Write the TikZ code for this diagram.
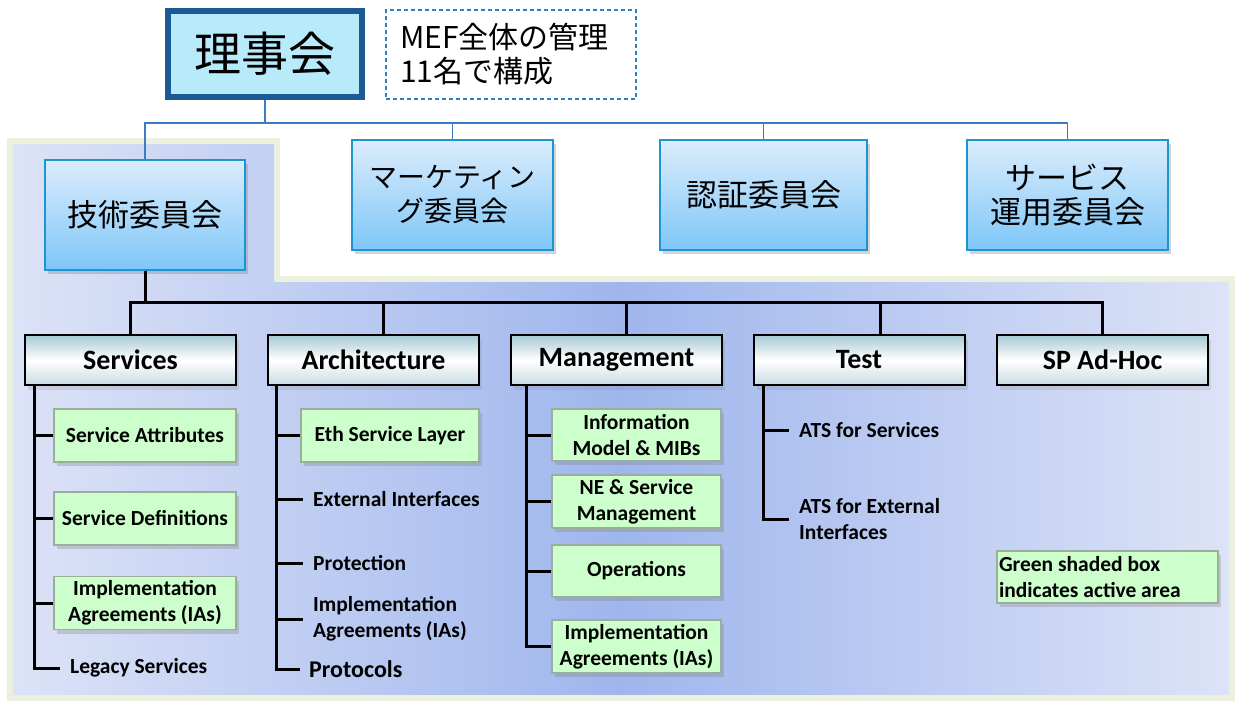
\documentclass[tikz,border=0pt]{standalone}
\usepackage{fontspec}
\setmainfont{Carlito}
\newfontfamily\jp{Noto Sans CJK JP}
\usetikzlibrary{shadows}
\definecolor{boardBorder}{HTML}{1C5A96}
\definecolor{boardFill}{HTML}{B7EBFA}
\definecolor{memoBorder}{HTML}{2F7FC1}
\definecolor{orgBlue}{HTML}{3A7DC0}
\definecolor{commBorder}{HTML}{1E95D3}
\definecolor{commTop}{HTML}{DCECFC}
\definecolor{commBot}{HTML}{7EC7F8}
\definecolor{panelEdge}{HTML}{EBF1DE}
\definecolor{panelSide}{HTML}{DDE3F7}
\definecolor{panelMid}{HTML}{9FB6ED}
\definecolor{catTop}{HTML}{A6C9D3}
\definecolor{catBot}{HTML}{C9DBE3}
\definecolor{activeFill}{HTML}{CCFFCC}
\definecolor{activeEdge}{HTML}{9AAE9A}
\begin{document}
\begin{tikzpicture}[x=1pt, y=-1pt,
  committee/.style={draw=commBorder, line width=1.5pt, top color=commTop, bottom color=commBot, minimum height=110pt, align=center, font=\jp\fontsize{31}{34}\selectfont, drop shadow={shadow xshift=3pt, shadow yshift=-4pt, opacity=0.35}},
  category/.style={draw=black, line width=2pt, top color=catTop, bottom color=catBot, middle color=white, minimum width=211pt, minimum height=50pt, font=\bfseries\fontsize{28}{32}\selectfont, drop shadow={shadow xshift=3pt, shadow yshift=-5pt, opacity=0.2}},
  active/.style={draw=activeEdge, line width=1.2pt, fill=activeFill, minimum width=182pt, minimum height=53pt, align=center, inner sep=2pt, font=\bfseries\fontsize{21.5}{26}\selectfont, drop shadow={shadow xshift=3pt, shadow yshift=-4pt, opacity=0.3}},
  leaf/.style={anchor=west, align=left, inner xsep=10pt, font=\bfseries\fontsize{21.5}{26}\selectfont},
  orgline/.style={draw=orgBlue, line width=1.3pt},
  tree/.style={draw=black, line width=3pt}]
\useasboundingbox (0,0) rectangle (1237,703);
\draw[draw=panelEdge, line width=6pt, left color=panelSide, right color=panelSide, middle color=panelMid] (10,141) -- (277,141) -- (277,279) -- (1232,279) -- (1232,698) -- (10,698) -- cycle;
\node[draw=boardBorder, line width=6pt, fill=boardFill, minimum width=194pt, minimum height=86pt, font=\jp\fontsize{47}{50}\selectfont] (board) at (265,54) {理事会};
\node[draw=memoBorder, line width=1.2pt, dash pattern=on 4pt off 3pt, text width=222pt, inner xsep=14pt, minimum height=89pt, align=left, font=\jp\fontsize{30}{34}\selectfont] (memo) at (511,54.5) {MEF全体の管理\\11名で構成};
\node[committee, minimum width=200pt] (tech) at (145,215) {技術委員会};
\node[committee, minimum width=201pt, font=\jp\fontsize{28}{34}\selectfont] (mkt) at (452.5,195) {マーケティン\\グ委員会};
\node[committee, minimum width=207pt] (cert) at (763.5,195) {認証委員会};
\node[committee, minimum width=201pt] (svcops) at (1067.5,195) {サービス\\運用委員会};
\draw[orgline] (board.south) -- ++(0,23) -| (tech.north);
\draw[orgline] (board.south) -- ++(0,23) -| (mkt.north);
\draw[orgline] (board.south) -- ++(0,23) -| (cert.north);
\draw[orgline] (board.south) -- ++(0,23) -| (svcops.north);
\node[category] (svc) at (130.5,360) {Services};
\node[category] (arch) at (373.5,360) {Architecture};
\node[category] (mgmt) at (616.5,360) {Management};
\node[category] (test) at (859,360) {Test};
\node[category] (adhoc) at (1102.5,360) {SP Ad-Hoc};
\draw[tree] (tech.south) -- ++(0,32) -| (svc.north);
\draw[tree] (tech.south) -- ++(0,32) -| ([xshift=10pt]arch.north);
\draw[tree] (tech.south) -- ++(0,32) -| ([xshift=10pt]mgmt.north);
\draw[tree] (tech.south) -- ++(0,32) -| ([xshift=21pt]test.north);
\draw[tree] (tech.south) -- ++(0,32) -| (adhoc.north);
\node[active] (attr) at (145,435.5) {Service Attributes};
\node[active] (defs) at (145,518.5) {Service Definitions};
\node[active] (svcia) at (145,603) {Implementation\\Agreements (IAs)};
\node[leaf] (legacy) at (60,668) {Legacy Services};
\draw[tree] (svc.south west) ++(10,0) |- (attr.west);
\draw[tree] (svc.south west) ++(10,0) |- (defs.west);
\draw[tree] (svc.south west) ++(10,0) |- (svcia.west);
\draw[tree] (svc.south west) ++(10,0) |- (legacy.west);
\node[active, minimum width=178pt] (ethlayer) at (390,435.5) {Eth Service Layer};
\node[leaf] (extif) at (303,499) {External Interfaces};
\node[leaf] (protect) at (303,563) {Protection};
\node[leaf] (archia) at (303,619) {Implementation\\Agreements (IAs)};
\node[leaf, inner xsep=9pt, font=\bfseries\fontsize{24}{28}\selectfont] (protocols) at (300,669) {Protocols};
\draw[tree] (arch.south west) ++(9,0) |- (ethlayer.west);
\draw[tree] (arch.south west) ++(9,0) |- (extif.west);
\draw[tree] (arch.south west) ++(9,0) |- (protect.west);
\draw[tree] (arch.south west) ++(9,0) |- (archia.west);
\draw[tree] (arch.south west) ++(9,0) |- (protocols.west);
\node[active, minimum width=169pt, minimum height=52pt] (infomodel) at (636.5,435) {Information\\Model \& MIBs};
\node[active, minimum width=169pt] (nemgmt) at (636.5,501.5) {NE \& Service\\Management};
\node[active, minimum width=169pt, minimum height=52pt] (operations) at (636.5,571) {Operations};
\node[active, minimum width=169pt] (mgmtia) at (636.5,646.5) {Implementation\\Agreements (IAs)};
\draw[tree] (mgmt.south west) ++(16,0) |- (infomodel.west);
\draw[tree] (mgmt.south west) ++(16,0) |- (nemgmt.west);
\draw[tree] (mgmt.south west) ++(16,0) |- (operations.west);
\draw[tree] (mgmt.south west) ++(16,0) |- (mgmtia.west);
\node[leaf] (atssvc) at (789,430) {ATS for Services};
\node[leaf] (atsext) at (789,519) {ATS for External\\Interfaces};
\draw[tree] (test.south west) ++(11,0) |- (atssvc.west);
\draw[tree] (test.south west) ++(11,0) |- (atsext.west);
\node[active, minimum width=221pt, minimum height=52pt, text width=217pt, align=left, execute at begin node={\spaceskip 0pt\relax}] (legend) at (1107.5,577) {Green shaded box\\indicates active area};
\end{tikzpicture}
\end{document}
